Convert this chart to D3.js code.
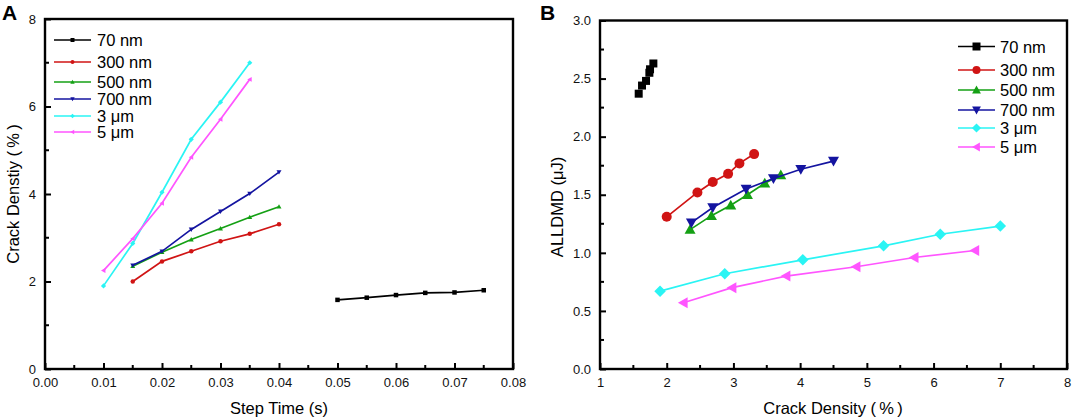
<!DOCTYPE html>
<html><head><meta charset="utf-8">
<script src="https://cdn.jsdelivr.net/npm/d3@7"></script>
<style>
body{margin:0;background:#fff;}
svg{display:block;font-family:"Liberation Sans",Arial,sans-serif;}
</style></head>
<body><svg id="c" width="1072" height="419"></svg>
<script>
// ---- data ----
const seriesNames = ["70 nm","300 nm","500 nm","700 nm","3 μm","5 μm"];
const seriesColors = ["#000000","#d01414","#14a014","#1414a0","#2af4f4","#ff55ff"];
const seriesShapes = ["square","circle","triUp","triDown","diamond","triLeft"];

// Panel A: step time (s) vs crack density (%)
const stepTime70 = [0.05,0.055,0.06,0.065,0.07,0.075];
const stepTime300 = [0.015,0.02,0.025,0.03,0.035,0.04];
const stepTime500 = [0.015,0.02,0.025,0.03,0.035,0.04];
const stepTime700 = [0.015,0.02,0.025,0.03,0.035,0.04];
const stepTime3u = [0.01,0.015,0.02,0.025,0.03,0.035];
const stepTime5u = [0.01,0.015,0.02,0.025,0.03,0.035];

const crack70 = [1.58,1.63,1.69,1.74,1.75,1.80];
const crack300 = [2.00,2.46,2.69,2.92,3.09,3.31];
const crack500 = [2.35,2.67,2.96,3.21,3.47,3.71];
const crack700 = [2.37,2.69,3.19,3.60,4.01,4.50];
const crack3u = [1.90,2.87,4.04,5.25,6.10,7.00];
const crack5u = [2.25,2.98,3.79,4.84,5.71,6.62];

// Panel B: crack density (%) vs ALLDMD (μJ)
const alldmd70 = [2.37,2.44,2.48,2.55,2.58,2.63];
const alldmd300 = [1.31,1.52,1.61,1.68,1.77,1.85];
const alldmd500 = [1.20,1.32,1.41,1.50,1.60,1.67];
const alldmd700 = [1.26,1.39,1.55,1.64,1.72,1.79];
const alldmd3u = [0.67,0.82,0.94,1.06,1.16,1.23];
const alldmd5u = [0.57,0.70,0.80,0.88,0.96,1.02];

const xTicksA = [0,0.01,0.02,0.03,0.04,0.05,0.06,0.07,0.08];
const yTicksA = [0,2,4,6,8];
const xTicksB = [1,2,3,4,5,6,7,8];
const yTicksB = [0,0.5,1.0,1.5,2.0,2.5,3.0];

const stepTimes = [stepTime70,stepTime300,stepTime500,stepTime700,stepTime3u,stepTime5u];
const cracks = [crack70,crack300,crack500,crack700,crack3u,crack5u];
const alldmds = [alldmd70,alldmd300,alldmd500,alldmd700,alldmd3u,alldmd5u];

// ---- helpers ----
function markerPath(shape, s){
  const h = s/2;
  switch(shape){
    case "square": return `M${-h},${-h}H${h}V${h}H${-h}Z`;
    case "circle": return `M${h},0A${h},${h} 0 1,1 ${-h},0A${h},${h} 0 1,1 ${h},0Z`;
    case "triUp": return `M0,${-h*1.1}L${h*1.1},${h*0.85}L${-h*1.1},${h*0.85}Z`;
    case "triDown": return `M0,${h*1.1}L${h*1.1},${-h*0.85}L${-h*1.1},${-h*0.85}Z`;
    case "triLeft": return `M${-h*1.1},0L${h*0.85},${-h*1.1}L${h*0.85},${h*1.1}Z`;
    case "diamond": return `M0,${-h*1.15}L${h*1.15},0L0,${h*1.15}L${-h*1.15},0Z`;
  }
}

const svg = d3.select("#c");

function drawFrame(g, x, y, opts){
  const [x0,x1] = x.range(); const [y0,y1] = y.range();
  opts.xMinor.forEach(v=>{
    g.append("line").attr("x1",x(v)).attr("x2",x(v)).attr("y1",y0).attr("y2",y0-4)
      .attr("stroke","#000").attr("stroke-width",2);
  });
  opts.yMinor.forEach(v=>{
    g.append("line").attr("y1",y(v)).attr("y2",y(v)).attr("x1",x0).attr("x2",x0+4)
      .attr("stroke","#000").attr("stroke-width",2);
  });
  const xa = d3.axisBottom(x).tickValues(opts.xTicks).tickSize(-6).tickPadding(9).tickFormat(opts.xFmt);
  const ya = d3.axisLeft(y).tickValues(opts.yTicks).tickSize(-6).tickPadding(9).tickFormat(opts.yFmt);
  const gx = g.append("g").attr("transform",`translate(0,${y0})`).call(xa);
  const gy = g.append("g").attr("transform",`translate(${x0},0)`).call(ya);
  [gx,gy].forEach(a=>{
    a.select(".domain").remove();
    a.selectAll(".tick line").attr("stroke","#000").attr("stroke-width",2);
    a.selectAll(".tick text").attr("font-size",13).attr("fill","#111")
      .attr("font-family","'Liberation Sans',Arial,sans-serif");
  });
  g.append("rect").attr("x",x0).attr("y",y1).attr("width",x1-x0).attr("height",y0-y1)
    .attr("fill","none").attr("stroke","#000").attr("stroke-width",2.4);
}

// ---- Panel A ----
const xA = d3.scaleLinear().domain([0,0.08]).range([45,513]);
const yA = d3.scaleLinear().domain([0,8]).range([369,19]);
const gA = svg.append("g");
const lineA = d3.line();
seriesNames.forEach((n,i)=>{
  const pts = stepTimes[i].map((t,j)=>[xA(t), yA(cracks[i][j])]);
  gA.append("path").attr("d",lineA(pts)).attr("fill","none")
    .attr("stroke",seriesColors[i]).attr("stroke-width",1.7);
  pts.forEach(p=>gA.append("path").attr("d",markerPath(seriesShapes[i],4.5))
    .attr("transform",`translate(${p[0]},${p[1]})`).attr("fill",seriesColors[i]));
});
drawFrame(gA,xA,yA,{
  xTicks:xTicksA, yTicks:yTicksA,
  xMinor:d3.range(0.005,0.08,0.01), yMinor:[1,3,5,7],
  xFmt:d3.format(".2f"), yFmt:d3.format("d")
});
const legAY = [40,62,82,99,116,132];
seriesNames.forEach((n,i)=>{
  const ly = legAY[i];
  gA.append("line").attr("x1",54).attr("x2",91).attr("y1",ly).attr("y2",ly)
    .attr("stroke",seriesColors[i]).attr("stroke-width",1.7);
  gA.append("path").attr("d",markerPath(seriesShapes[i],4)).attr("transform",`translate(72.5,${ly})`)
    .attr("fill",seriesColors[i]);
  gA.append("text").attr("x",97).attr("y",ly+6).attr("font-size",16.5).attr("fill","#000").text(n);
});
gA.append("text").attr("x",279).attr("y",414).attr("text-anchor","middle").attr("font-size",16.5)
  .text("Step Time (s)");
gA.append("text").attr("transform","translate(19,194) rotate(-90)").attr("text-anchor","middle")
  .attr("font-size",16.5).text("Crack Denstiy (\u2009%\u2009)");
gA.append("text").attr("x",2).attr("y",20).attr("font-size",21).attr("font-weight","bold").text("A");

// ---- Panel B ----
const xB = d3.scaleLinear().domain([1,8]).range([600,1067]);
const yB = d3.scaleLinear().domain([0,3]).range([369,20.5]);
const gB = svg.append("g");
seriesNames.forEach((n,i)=>{
  const pts = cracks[i].map((c,j)=>[xB(c), yB(alldmds[i][j])]);
  if(i>0) gB.append("path").attr("d",lineA(pts)).attr("fill","none")
    .attr("stroke",seriesColors[i]).attr("stroke-width",1.7);
  pts.forEach(p=>gB.append("path").attr("d",markerPath(seriesShapes[i],i==0?8:10))
    .attr("transform",`translate(${p[0]},${p[1]})`).attr("fill",seriesColors[i]));
});
drawFrame(gB,xB,yB,{
  xTicks:xTicksB, yTicks:yTicksB,
  xMinor:d3.range(1.5,8,1), yMinor:d3.range(0.25,3,0.5),
  xFmt:d3.format("d"), yFmt:d3.format(".1f")
});
const legBY = [46.5,70,90,110,128,147];
seriesNames.forEach((n,i)=>{
  const ly = legBY[i];
  gB.append("line").attr("x1",958).attr("x2",995).attr("y1",ly).attr("y2",ly)
    .attr("stroke",seriesColors[i]).attr("stroke-width",1.7);
  gB.append("path").attr("d",markerPath(seriesShapes[i],8)).attr("transform",`translate(976.5,${ly})`)
    .attr("fill",seriesColors[i]);
  gB.append("text").attr("x",1000).attr("y",ly+6).attr("font-size",16.5).attr("fill","#000").text(n);
});
gB.append("text").attr("x",833).attr("y",414).attr("text-anchor","middle").attr("font-size",16.5)
  .text("Crack Density (\u2009%\u2009)");
gB.append("text").attr("transform","translate(563,207) rotate(-90)").attr("text-anchor","middle")
  .attr("font-size",16.5).text("ALLDMD (μJ)");
gB.append("text").attr("x",540).attr("y",20).attr("font-size",21).attr("font-weight","bold").text("B");
</script></body></html>
